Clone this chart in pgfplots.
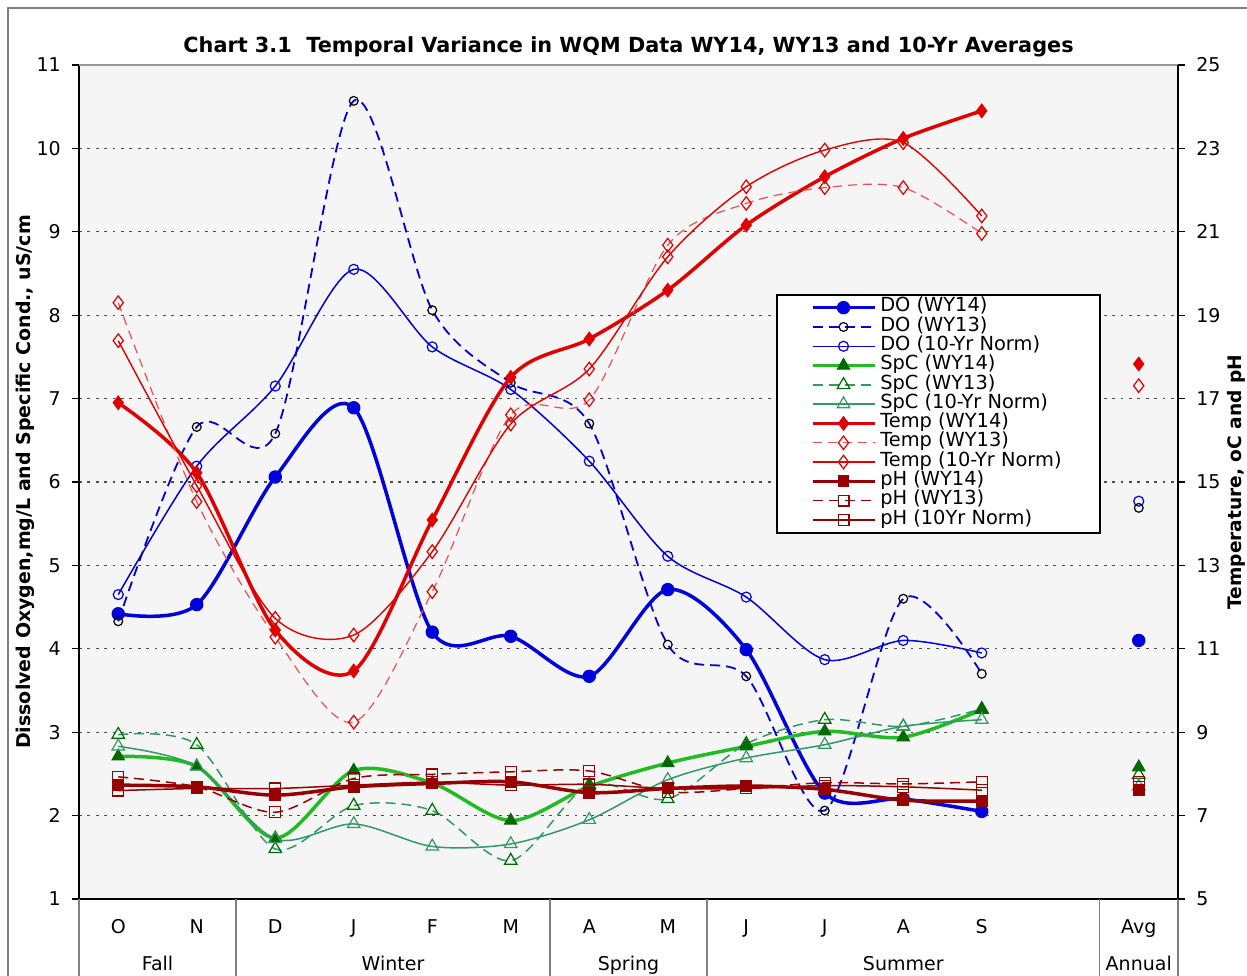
\documentclass[border=0pt]{standalone}
\usepackage{pgfplots}
\pgfplotsset{compat=1.18}
\usepackage{pgfplotstable}
\usepackage{fontspec}
\setmainfont{DejaVu Sans}
\definecolor{doblue}{RGB}{0,0,220}
\definecolor{spcgreen}{RGB}{34,187,34}
\definecolor{spcdark}{RGB}{0,105,0}
\definecolor{spcteal}{RGB}{51,153,102}
\definecolor{tempred}{RGB}{225,0,0}
\definecolor{templight}{RGB}{238,80,80}
\definecolor{phred}{RGB}{150,0,0}
\definecolor{bgray}{RGB}{245,245,245}

% months at x = 0..11 (O..S)
\pgfplotstableread{
x DOa DOb DOc SpCa SpCb SpCc
0 4.42 4.33 4.65 2.71 2.97 2.83
1 4.53 6.66 6.19 2.59 2.85 2.59
2 6.06 6.58 7.15 1.73 1.60 1.72
3 6.89 10.57 8.55 2.54 2.12 1.90
4 4.20 8.06 7.62 2.39 2.06 1.63
5 4.15 7.19 7.11 1.94 1.46 1.66
6 3.67 6.70 6.25 2.35 2.37 1.95
7 4.71 4.05 5.11 2.63 2.20 2.43
8 3.99 3.67 4.62 2.83 2.86 2.69
9 2.27 2.06 3.87 3.01 3.15 2.85
10 2.20 4.60 4.10 2.94 3.07 3.07
11 2.05 3.70 3.95 3.27 3.28 3.15
}\leftdata

\pgfplotstableread{
x Ta Tb Tc pHa pHb pHc
0 16.90 19.30 18.39 7.73 7.93 7.60
1 15.22 14.53 14.91 7.69 7.69 7.65
2 11.45 11.28 11.73 7.49 7.08 7.65
3 10.47 9.24 11.33 7.69 7.89 7.73
4 14.09 12.37 13.33 7.77 7.99 7.80
5 17.51 16.61 16.39 7.81 8.05 7.73
6 18.43 16.97 17.71 7.55 8.07 7.75
7 19.60 20.68 20.40 7.65 7.57 7.65
8 21.16 21.68 22.08 7.71 7.65 7.65
9 22.32 22.06 22.96 7.63 7.79 7.72
10 23.24 22.06 23.14 7.37 7.76 7.69
11 23.90 20.96 21.38 7.35 7.81 7.61
}\rightdata

\pgfplotstableread{
x DOa DOb DOc SpCa SpCb SpCc Ta Tb pHa pHb pHc
13 4.10 5.69 5.77 2.58 2.49 2.35 17.83 17.31 7.61 7.81 7.68
}\avgdata

\pgfplotsset{
 DOa/.style={doblue, line width=1.75pt, mark=*, mark size=3.1pt, mark options={solid, fill=doblue, line width=0.5pt}},
 DOb/.style={doblue, line width=0.9pt, dash pattern=on 5pt off 3pt, mark=o, mark size=2.2pt, mark options={solid, draw=black, line width=0.6pt}},
 DOc/.style={doblue, line width=0.75pt, mark=o, mark size=2.5pt, mark options={solid, line width=0.6pt}},
 SpCa/.style={spcgreen, line width=1.75pt, mark=triangle*, mark size=3.6pt, mark options={solid, draw=spcdark, fill=spcdark, line width=0.5pt}},
 SpCb/.style={spcteal, line width=0.75pt, dash pattern=on 5pt off 3pt, mark=triangle, mark size=3.6pt, mark options={solid, draw=spcdark, line width=0.6pt}},
 SpCc/.style={spcteal, line width=0.75pt, mark=triangle, mark size=3.6pt, mark options={solid, line width=0.6pt}},
 Ta/.style={tempred, line width=1.75pt, mark=diamond*, mark size=3.4pt, mark options={solid, fill=tempred, line width=0.5pt}},
 Tb/.style={templight, line width=0.6pt, dash pattern=on 4.5pt off 3pt, mark=diamond, mark size=3.4pt, mark options={solid, draw=tempred, line width=0.6pt}},
 Tc/.style={tempred, line width=0.7pt, mark=diamond, mark size=3.4pt, mark options={solid, line width=0.6pt}},
 pHa/.style={phred, line width=1.75pt, mark=square*, mark size=2.7pt, mark options={solid, fill=phred, line width=0.5pt}},
 pHb/.style={phred, line width=0.75pt, dash pattern=on 5pt off 3pt, mark=square, mark size=2.7pt, mark options={solid, line width=0.6pt}},
 pHc/.style={phred, line width=0.75pt, mark=square, mark size=2.7pt, mark options={solid, line width=0.6pt}},
 legend image code/.code={\draw[mark repeat=2,mark phase=2,#1] plot coordinates {(0pt,0pt) (15.5pt,0pt) (31pt,0pt)};},
 common/.style={
   at={(0,0)}, anchor=south west,
   scale only axis, width=549.5pt, height=417pt,
   xmin=-0.5, xmax=13.5,
   tick align=outside, major tick length=3.3pt,
   /pgf/number format/assume math mode=true,
   tick label style={font=\fontsize{9.5}{10}\selectfont},
   axis line style={black, line width=0.8pt},
   ytick style={black, line width=0.6pt},
 },
}

\begin{document}
\begin{tikzpicture}
\path[use as bounding box] (-39.5pt,-38pt) rectangle (584pt,449.5pt);
% outer chart frame
\draw[gray, line width=0.9pt] (-35.5pt,-60pt) -- (-35.5pt,445.5pt) -- (620pt,445.5pt);

\begin{axis}[common,
  ymin=1, ymax=11,
  axis x line*=bottom, axis y line*=left,
  axis background/.style={fill=bgray},
  ytick={1,...,11},
  yticklabel style={xshift=-2.3pt},
  ymajorgrids, grid style={black!70, line width=0.55pt, dash pattern=on 1.4pt off 2.8pt},
  xtick={0,...,11,13}, xticklabels={O,N,D,J,F,M,A,M,J,J,A,S,Avg},
  xtick style={draw=none},
  xticklabel style={font=\fontsize{9.5}{10}\selectfont, anchor=base, yshift=-14pt},
  clip=false,
]
\addplot[DOa, smooth] table[x=x,y=DOa]{\leftdata};
\addplot[DOb, smooth] table[x=x,y=DOb]{\leftdata};
\addplot[DOc, smooth] table[x=x,y=DOc]{\leftdata};
\addplot[SpCa, smooth] table[x=x,y=SpCa]{\leftdata};
\addplot[SpCb, smooth] table[x=x,y=SpCb]{\leftdata};
\addplot[SpCc, smooth] table[x=x,y=SpCc]{\leftdata};
\addplot[DOa, only marks] table[x=x,y=DOa]{\avgdata};
\addplot[DOb, only marks] table[x=x,y=DOb]{\avgdata};
\addplot[DOc, only marks] table[x=x,y=DOc]{\avgdata};
\addplot[SpCa, only marks] table[x=x,y=SpCa]{\avgdata};
\addplot[SpCb, only marks] table[x=x,y=SpCb]{\avgdata};
\addplot[SpCc, only marks] table[x=x,y=SpCc]{\avgdata};
% category separators and season names
\draw[gray, line width=0.8pt] (axis cs:-0.5,1) -- ([yshift=-45pt]axis cs:-0.5,1);
\draw[gray, line width=0.8pt] (axis cs:1.5,1) -- ([yshift=-45pt]axis cs:1.5,1);
\draw[gray, line width=0.8pt] (axis cs:5.5,1) -- ([yshift=-45pt]axis cs:5.5,1);
\draw[gray, line width=0.8pt] (axis cs:7.5,1) -- ([yshift=-45pt]axis cs:7.5,1);
\draw[gray, line width=0.8pt] (axis cs:12.5,1) -- ([yshift=-45pt]axis cs:12.5,1);
\draw[gray, line width=0.8pt] (axis cs:13.5,1) -- ([yshift=-45pt]axis cs:13.5,1);
\node[anchor=base, font=\fontsize{9.5}{10}\selectfont] at ([yshift=-35.5pt]axis cs:0.5,1) {Fall};
\node[anchor=base, font=\fontsize{9.5}{10}\selectfont] at ([yshift=-35.5pt]axis cs:3.5,1) {Winter};
\node[anchor=base, font=\fontsize{9.5}{10}\selectfont] at ([yshift=-35.5pt]axis cs:6.5,1) {Spring};
\node[anchor=base, font=\fontsize{9.5}{10}\selectfont] at ([yshift=-35.5pt]axis cs:10,1) {Summer};
\node[anchor=base, font=\fontsize{9.5}{10}\selectfont] at ([yshift=-35.5pt]axis cs:13,1) {Annual};
\draw[gray!80, line width=0.8pt] (rel axis cs:0,1) -- (rel axis cs:1,1);
\node[anchor=base, font=\bfseries\fontsize{10.4}{12}\selectfont] at ([yshift=6pt]rel axis cs:0.5,1) {Chart 3.1\ \ Temporal Variance in WQM Data WY14, WY13 and 10-Yr Averages};
\node[rotate=90, anchor=center, font=\bfseries\fontsize{9.5}{11}\selectfont] at ([xshift=-27pt]rel axis cs:0,0.5) {Dissolved Oxygen,mg/L and Specific Cond., uS/cm};
\end{axis}

\begin{axis}[common,
  ymin=5, ymax=25,
  axis x line=none, axis y line*=right,
  ytick={5,7,...,25},
  yticklabel style={xshift=2.3pt},
  clip=false,
  legend style={at={(0.634,0.7254)}, anchor=north west, draw=black, line width=1pt, fill=white,
    inner xsep=17pt, inner ysep=1.5pt, row sep=0pt,
    font=\fontsize{9.7}{10}\selectfont,
    nodes={inner ysep=0pt, text height=6.9pt, text depth=2.75pt}},
  legend cell align=left,
]
\addlegendimage{DOa, smooth}\addlegendentry{DO (WY14)}
\addlegendimage{DOb, smooth}\addlegendentry{DO (WY13)}
\addlegendimage{DOc, smooth}\addlegendentry{DO (10-Yr Norm)}
\addlegendimage{SpCa, smooth}\addlegendentry{SpC (WY14)}
\addlegendimage{SpCb, smooth}\addlegendentry{SpC (WY13)}
\addlegendimage{SpCc, smooth}\addlegendentry{SpC (10-Yr Norm)}
\addplot[Ta, smooth] table[x=x,y=Ta]{\rightdata};\addlegendentry{Temp (WY14)}
\addplot[Tb, smooth] table[x=x,y=Tb]{\rightdata};\addlegendentry{Temp (WY13)}
\addplot[Tc, smooth] table[x=x,y=Tc]{\rightdata};\addlegendentry{Temp (10-Yr Norm)}
\addplot[pHa, smooth] table[x=x,y=pHa]{\rightdata};\addlegendentry{pH (WY14)}
\addplot[pHb, smooth] table[x=x,y=pHb]{\rightdata};\addlegendentry{pH (WY13)}
\addplot[pHc, smooth] table[x=x,y=pHc]{\rightdata};\addlegendentry{pH (10Yr Norm)}
\addplot[Ta, only marks, forget plot] table[x=x,y=Ta]{\avgdata};
\addplot[Tb, only marks, forget plot] table[x=x,y=Tb]{\avgdata};
\addplot[pHa, only marks, forget plot] table[x=x,y=pHa]{\avgdata};
\addplot[pHb, only marks, forget plot] table[x=x,y=pHb]{\avgdata};
\addplot[pHc, only marks, forget plot] table[x=x,y=pHc]{\avgdata};
\node[rotate=90, anchor=center, font=\bfseries\fontsize{9.3}{11}\selectfont] at ([xshift=29pt]rel axis cs:1,0.5) {Temperature, oC and pH};
\end{axis}
\end{tikzpicture}
\end{document}
